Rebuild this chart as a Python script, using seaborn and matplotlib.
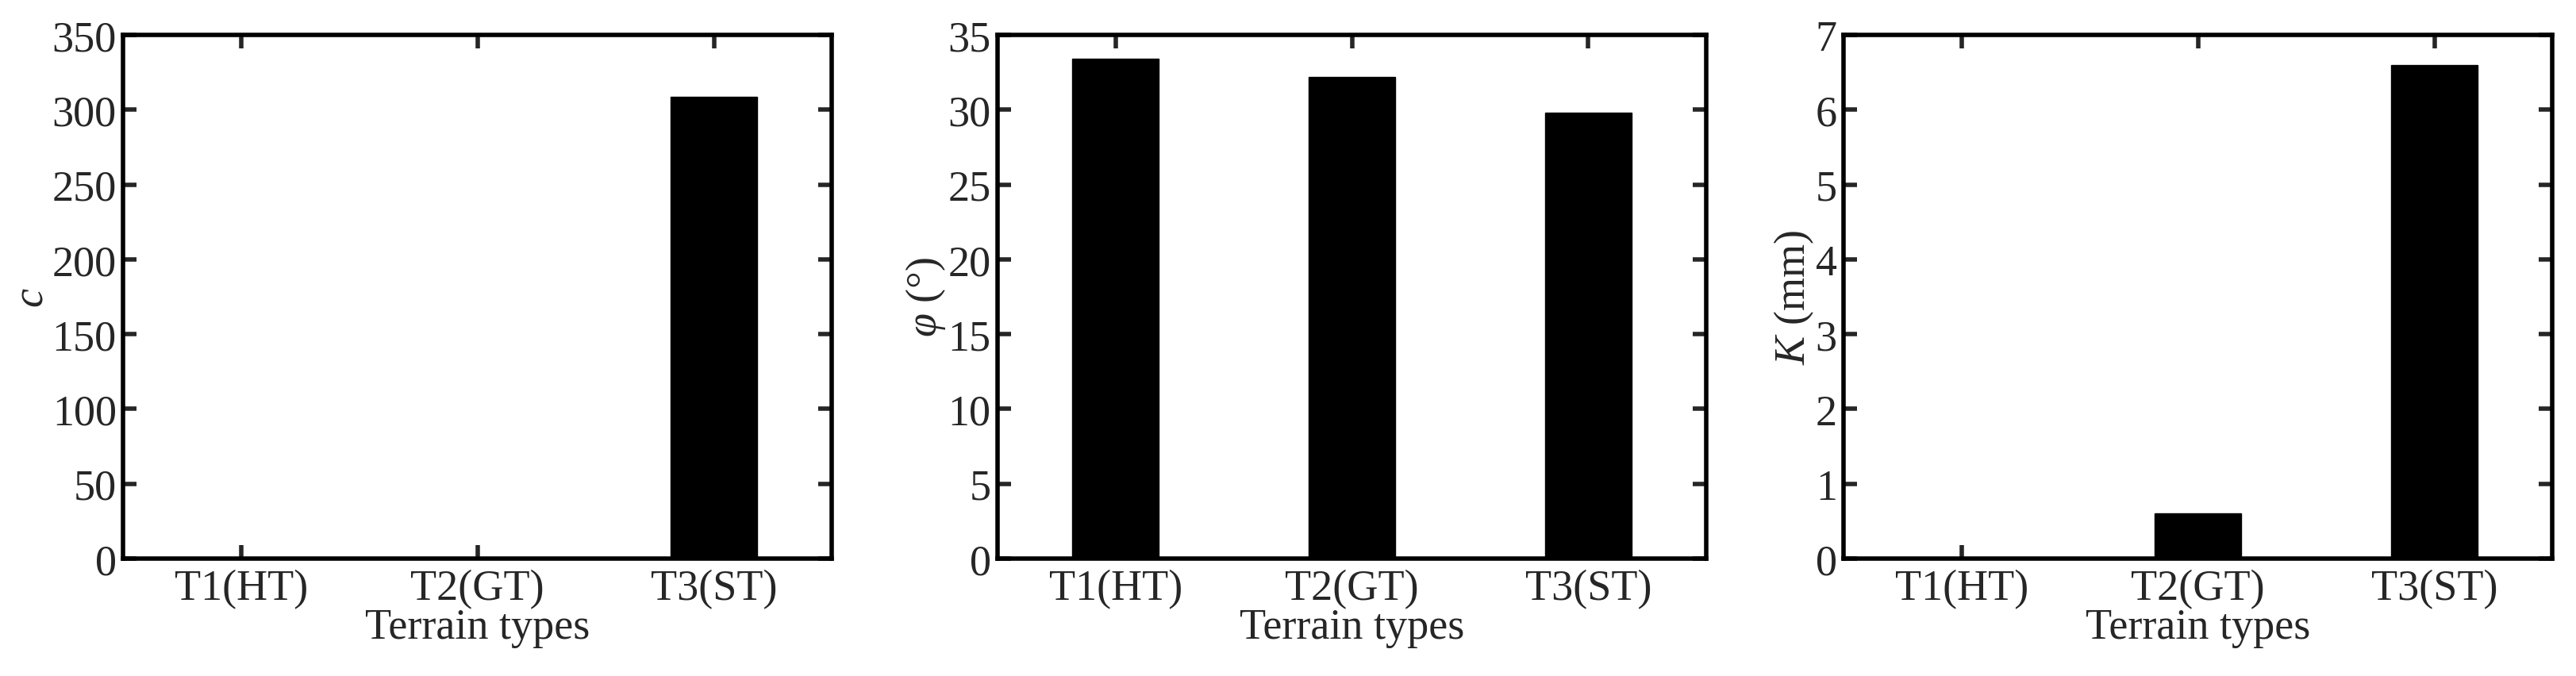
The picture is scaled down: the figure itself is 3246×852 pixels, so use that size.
import seaborn as sns
import matplotlib.pyplot as plt

# Terrain categories and measured parameters
terrains = ['T1(HT)', 'T2(GT)', 'T3(ST)']
cohesion = [0, 0, 308.5]
friction_angle = [33.4, 32.2, 29.8]
shear_modulus = [0, 0.6, 6.6]

y_labels = [r'$c$', r'$\varphi$ (°)', r'$K$ (mm)']
y_limits = [350, 35, 7]
y_steps = [50, 5, 1]

sns.set_style('ticks')
plt.rcParams['font.family'] = ['Liberation Serif', 'DejaVu Serif']
plt.rcParams['mathtext.fontset'] = 'custom'
plt.rcParams['mathtext.rm'] = 'Liberation Serif'
plt.rcParams['mathtext.it'] = 'Liberation Serif:italic'

fs = 39
fig = plt.figure(figsize=(32.46, 8.53), dpi=100)

# axes positions (left, bottom, width, height) in figure fractions
lefts = [0.0478, 0.3872, 0.7157]
axes = [fig.add_axes([l, 0.1735, 0.2752, 0.7737]) for l in lefts]

for ax, vals, lab, top, step in zip(axes, [cohesion, friction_angle, shear_modulus],
                                     y_labels, y_limits, y_steps):
    sns.barplot(x=terrains, y=vals, ax=ax, color='black', saturation=1,
                width=0.365, edgecolor='black')
    ax.set_xlim(-0.5, 2.5)
    ax.set_ylim(0, top)
    ax.set_yticks(range(0, top + 1, step))
    ax.tick_params(direction='in', top=True, right=True, length=12, width=4,
                   labelsize=fs)
    ax.tick_params(axis='x', pad=9)
    ax.tick_params(axis='y', pad=6)
    for s in ax.spines.values():
        s.set_linewidth(4)
        s.set_color('black')
    ax.set_xlabel('Terrain types', fontsize=fs, labelpad=-1)
    ax.set_ylabel(lab, fontsize=fs, labelpad=0)

fig.savefig('out.png', dpi=100)
